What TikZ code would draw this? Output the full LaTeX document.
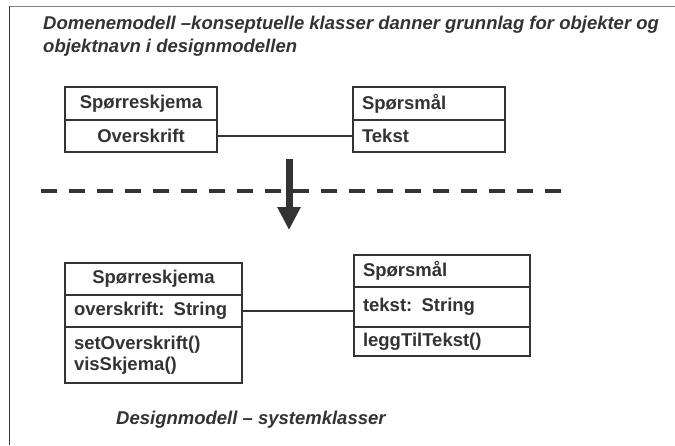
\documentclass[tikz,border=0pt]{standalone}
\usepackage{fontspec}
\setmainfont{Liberation Sans}
\usetikzlibrary{positioning,arrows.meta}
\definecolor{inkc}{HTML}{333333}
\definecolor{framec}{HTML}{808080}
\tikzset{
  cell/.style={draw=inkc, line width=1.1pt, outer sep=0pt, inner xsep=9pt, inner ysep=0pt,
    text=inkc, font=\fontsize{18.5}{21}\selectfont\bfseries, align=center},
  cellL/.style={cell, align=left},
  heavy/.style={draw=inkc, line width=2.6pt},
  link/.style={draw=inkc, line width=1.1pt},
  caption/.style={text=inkc, font=\fontsize{18.5}{23}\selectfont\bfseries\itshape,
    align=left, inner sep=0pt}
}
\begin{document}
\begin{tikzpicture}[x=1pt,y=-1pt]
    \useasboundingbox[fill=white] (0,0) rectangle (675,445);
    \draw[framec, line width=1pt] (9,6) -- (675,6);
    \draw[inkc, line width=1pt] (9,6) -- (9,445);
    \node[caption, anchor=north west] (title) at (43,16)
        {Domenemodell –konseptuelle klasser danner grunnlag for objekter og\\objektnavn i designmodellen};
    % domenemodell
    \node[cell, text width=134pt, minimum height=33pt, anchor=north west] (dSkjema) at (65,87) {Spørreskjema};
    \node[cell, text width=134pt, minimum height=32pt, below=0pt of dSkjema] (dOverskrift) {Overskrift};
    \node[cellL, text width=134pt, minimum height=33pt, anchor=north west] (dSporsmal) at (353,87) {Spørsmål};
    \node[cellL, text width=134pt, minimum height=32pt, below=0pt of dSporsmal] (dTekst) {Tekst};
    \draw[link] (dOverskrift) -- (dTekst);
    % skille og pil
    \coordinate (cSplitW) at (41,191);
    \coordinate (cSplitE) at (562,191);
    \coordinate (cArrowTop) at (289,159);
    \coordinate (cArrowTip) at (289,230);
    \draw[inkc, line width=3.5pt, dash pattern=on 16pt off 12pt] (cSplitW) -- (cSplitE);
    \draw[inkc, line width=7pt, -{Triangle[width=22pt,length=23pt]}] (cArrowTop) -- (cArrowTip);
    % designmodell
    \node[cell, text width=159pt, minimum height=32pt, anchor=north west] (sSkjema) at (65,263) {Spørreskjema};
    \node[cellL, text width=159pt, minimum height=32pt, below=0pt of sSkjema] (sOverskrift) {overskrift: String};
    \node[cellL, text width=159pt, minimum height=56pt, below=0pt of sOverskrift] (sMetoder) {setOverskrift()\\visSkjema()};
    \node[cellL, text width=158pt, minimum height=32pt, anchor=north west] (sSporsmal) at (354,255) {Spørsmål};
    \node[cellL, text width=158pt, minimum height=40pt, below=0pt of sSporsmal] (sTekst) {tekst: String};
    \node[cellL, text width=158pt, minimum height=29pt, below=0pt of sTekst] (sMetode) {leggTilTekst()};
    \draw[link] (sOverskrift.east) -- (sOverskrift.east -| sTekst.west);
\foreach \n in {dSkjema,dSporsmal,sSkjema,sOverskrift}
{
    \draw[heavy] (\n.south west) -- (\n.south east);
};
    \node[caption, anchor=west] (caption) at (116,420) {Designmodell – systemklasser};
\end{tikzpicture}
\end{document}
